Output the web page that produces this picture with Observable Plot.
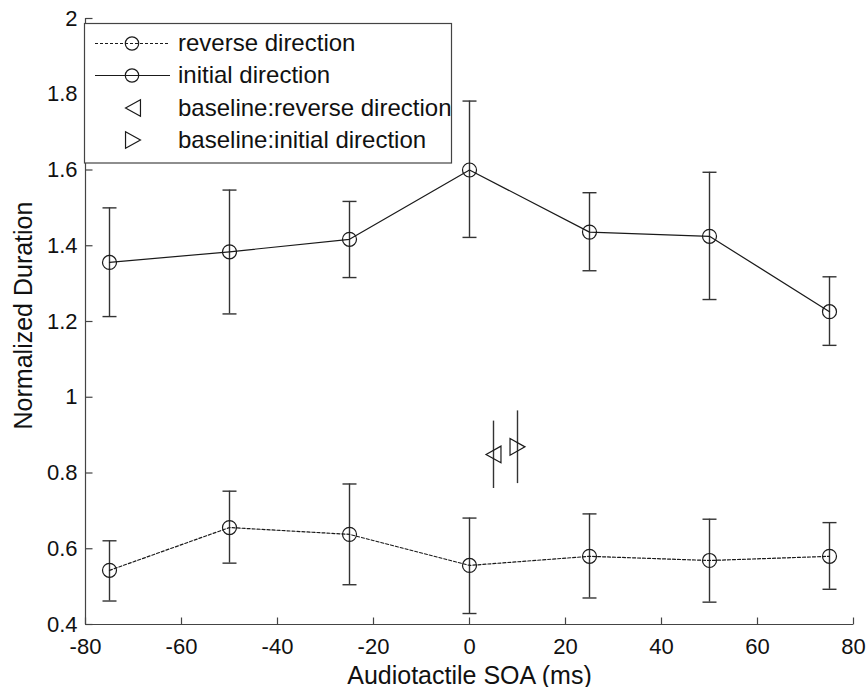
<!DOCTYPE html>
<html><head><meta charset="utf-8">
<script src="https://cdn.jsdelivr.net/npm/d3@7"></script>
<script src="https://cdn.jsdelivr.net/npm/@observablehq/plot@0.6"></script>
<style>body{margin:0;background:#fff} svg{display:block}</style>
</head><body><div id="chart"></div>
<script>
// ---- data ----
const soa = [-75, -50, -25, 0, 25, 50, 75];
const initialMean = [1.356, 1.384, 1.417, 1.600, 1.436, 1.425, 1.226];
const initialHi   = [1.500, 1.547, 1.517, 1.782, 1.540, 1.594, 1.318];
const initialLo   = [1.213, 1.220, 1.316, 1.422, 1.334, 1.258, 1.137];
const reverseMean = [0.543, 0.656, 0.638, 0.556, 0.580, 0.569, 0.580];
const reverseHi   = [0.621, 0.752, 0.771, 0.681, 0.692, 0.678, 0.669];
const reverseLo   = [0.462, 0.562, 0.505, 0.429, 0.470, 0.459, 0.493];
const baselineSoa  = [5, 10];
const baselineMean = [0.849, 0.869];
const baselineHi   = [0.937, 0.964];
const baselineLo   = [0.759, 0.772];
const baselineKind = ["reverse", "initial"];
const xTicks = [-80, -60, -40, -20, 0, 20, 40, 60, 80];
const yTicks = [0.4, 0.6, 0.8, 1, 1.2, 1.4, 1.6, 1.8, 2];
const xLabel = "Audiotactile SOA (ms)";
const yLabel = "Normalized Duration";
const legendLabels = ["reverse direction", "initial direction", "baseline:reverse direction", "baseline:initial direction"];

const initial = soa.map((x, i) => ({x, y: initialMean[i], hi: initialHi[i], lo: initialLo[i]}));
const reverse = soa.map((x, i) => ({x, y: reverseMean[i], hi: reverseHi[i], lo: reverseLo[i]}));
const baseline = baselineSoa.map((x, i) => ({x, y: baselineMean[i], hi: baselineHi[i], lo: baselineLo[i], kind: baselineKind[i]}));
const bars = initial.concat(reverse);

// ---- custom symbols ----
const rad = s => Math.sqrt(s / Math.PI);
const capSym = {draw(c, s) { const r = rad(s); c.moveTo(-r, 0); c.lineTo(r, 0); }};
const upTick = {draw(c, s) { const r = rad(s); c.moveTo(0, 0); c.lineTo(0, -r); }};
const rightTick = {draw(c, s) { const r = rad(s); c.moveTo(0, 0); c.lineTo(r, 0); }};
const triLeft = {draw(c, s) { const r = rad(s); c.moveTo(-0.9 * r, 0); c.lineTo(0.9 * r, -r); c.lineTo(0.9 * r, r); c.closePath(); }};
const triRight = {draw(c, s) { const r = rad(s); c.moveTo(0.9 * r, 0); c.lineTo(-0.9 * r, -r); c.lineTo(-0.9 * r, r); c.closePath(); }};

const ink = "#1a1a1a", axisInk = "#444";
const FONT = "'Liberation Sans', Arial, Helvetica, sans-serif";

const chart = Plot.plot({
  width: 867, height: 687,
  marginLeft: 85, marginRight: 14, marginTop: 18, marginBottom: 63,
  x: {domain: [-80, 80]},
  y: {domain: [0.4, 2]},
  style: {fontFamily: FONT, fontSize: "22px", background: "#fff", color: "#111"},
  marks: [
    // axes lines
    Plot.ruleX([-80], {stroke: axisInk, strokeWidth: 1.2}),
    Plot.ruleY([0.4], {stroke: axisInk, strokeWidth: 1.2}),
    // inward ticks
    Plot.dot(xTicks, {x: d => d, y: () => 0.4, symbol: upTick, r: 7, stroke: axisInk, strokeWidth: 1.2, fill: "none"}),
    Plot.dot(yTicks, {y: d => d, x: () => -80, symbol: rightTick, r: 7, stroke: axisInk, strokeWidth: 1.2, fill: "none"}),
    Plot.axisX({ticks: xTicks, tickSize: 0, tickPadding: 14, fontSize: 22, tickFormat: d => String(d), label: null, fill: "#111"}),
    Plot.axisY({ticks: yTicks, tickSize: 0, tickPadding: 8, fontSize: 22, tickFormat: d => String(d), label: null, fill: "#111"}),
    Plot.text([xLabel], {text: d => d, frameAnchor: "bottom", lineAnchor: "middle", textAnchor: "middle", dy: 51, fontSize: 25, fill: "#111"}),
    Plot.text([yLabel], {text: d => d, frameAnchor: "left", lineAnchor: "middle", textAnchor: "middle", rotate: -90, dx: -62, dy: -6, fontSize: 25, fill: "#111"}),
    // error bars
    Plot.ruleX(bars, {x: "x", y1: "lo", y2: "hi", stroke: "#333", strokeWidth: 1.4}),
    Plot.dot(bars, {x: "x", y: "hi", symbol: capSym, r: 7, stroke: "#333", strokeWidth: 1.4, fill: "none"}),
    Plot.dot(bars, {x: "x", y: "lo", symbol: capSym, r: 7, stroke: "#333", strokeWidth: 1.4, fill: "none"}),
    // lines
    Plot.line(initial, {x: "x", y: "y", stroke: ink, strokeWidth: 1.2}),
    Plot.line(reverse, {x: "x", y: "y", stroke: ink, strokeWidth: 1.2, strokeDasharray: "3,2"}),
    Plot.dot(initial, {x: "x", y: "y", r: 7, stroke: ink, strokeWidth: 1.2, fill: "none"}),
    Plot.dot(reverse, {x: "x", y: "y", r: 7, stroke: ink, strokeWidth: 1.2, fill: "none"}),
    // baselines
    Plot.ruleX(baseline, {x: "x", y1: "lo", y2: "hi", stroke: "#333", strokeWidth: 1.4}),
    Plot.dot(baseline.filter(d => d.kind === "reverse"), {x: "x", y: "y", symbol: triLeft, r: 8.3, stroke: ink, strokeWidth: 1.2, fill: "none"}),
    Plot.dot(baseline.filter(d => d.kind === "initial"), {x: "x", y: "y", symbol: triRight, r: 8.3, stroke: ink, strokeWidth: 1.2, fill: "none"})
  ]
});

document.getElementById("chart").appendChild(chart);

// ---- legend inside the axes (top-left) ----
const svg = d3.select(chart);
const lg = svg.append("g").attr("font-family", FONT).attr("font-size", 24).attr("text-anchor", "start");
lg.append("rect").attr("x", 84.5).attr("y", 23.5).attr("width", 367).attr("height", 139.5)
  .attr("fill", "#fff").attr("stroke", axisInk).attr("stroke-width", 1.2);
const rowY = [43.5, 75.5, 108, 140];
const symPath = (t, r) => d3.symbol(t, r * r * Math.PI)();
legendLabels.forEach((lab, i) => {
  const y = rowY[i];
  const row = lg.append("g").attr("transform", `translate(0,${y})`);
  if (i < 2) {
    row.append("line").attr("x1", 95).attr("x2", 170).attr("y1", 0).attr("y2", 0)
      .attr("stroke", ink).attr("stroke-width", 1.2).attr("stroke-dasharray", i === 0 ? "3,2" : null);
    row.append("circle").attr("cx", 132).attr("cy", 0).attr("r", 6.7).attr("fill", "none").attr("stroke", ink).attr("stroke-width", 1.2);
  } else {
    row.append("path").attr("transform", "translate(133,0)").attr("d", symPath(i === 2 ? triLeft : triRight, 8.3))
      .attr("fill", "none").attr("stroke", ink).attr("stroke-width", 1.2);
  }
  row.append("text").attr("x", 178).attr("y", 0).attr("dy", "0.32em").attr("text-anchor", "start").attr("fill", "#111").text(lab);
});
</script>
</body></html>
